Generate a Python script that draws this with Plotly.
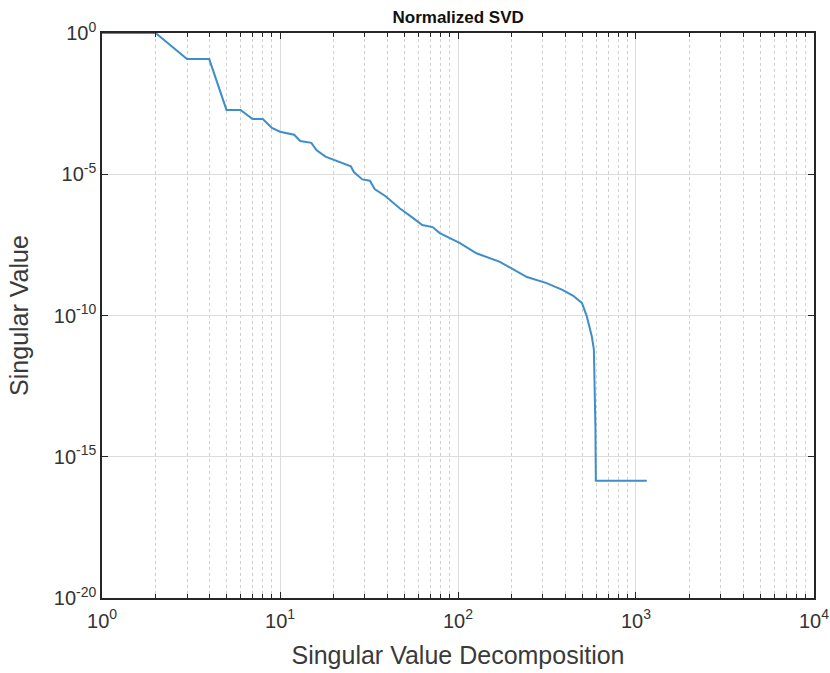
import plotly.graph_objects as go

# index of singular value
sv_index = [1, 2, 3, 4, 5, 6, 7, 8, 9, 10, 12, 13, 15, 16, 18, 20, 25, 26, 29, 32,
            34, 39, 47, 56, 63, 72, 79, 102, 127, 172, 195, 244, 315, 389, 444,
            497, 530, 565, 580, 588, 592, 595, 1150]
# normalized singular values
sv_value = [1.0, 1.0, 1.2e-1, 1.2e-1, 1.9e-3, 1.9e-3, 9.1e-4, 9.1e-4, 4.4e-4, 3.2e-4,
            2.5e-4, 1.5e-4, 1.3e-4, 7.2e-5, 4.2e-5, 3.2e-5, 1.9e-5, 1.2e-5, 6.6e-6,
            5.9e-6, 3.0e-6, 1.7e-6, 6.3e-7, 2.8e-7, 1.6e-7, 1.35e-7, 8.3e-8, 3.7e-8,
            1.6e-8, 7.9e-9, 5.2e-9, 2.3e-9, 1.4e-9, 7.9e-10, 5.0e-10, 2.8e-10,
            9.1e-11, 1.8e-11, 6.3e-12, 3.2e-13, 1.0e-14, 1.4e-16, 1.4e-16]

x_tick_vals = [1, 10, 100, 1000, 10000]
x_tick_text = ["10<sup>0</sup>", "10<sup>1</sup>", "10<sup>2</sup>", "10<sup>3</sup>", "10<sup>4</sup>"]
y_tick_vals = [1e0, 1e-5, 1e-10, 1e-15, 1e-20]
y_tick_text = ["10<sup>0</sup>", "10<sup>-5</sup>", "10<sup>-10</sup>", "10<sup>-15</sup>", "10<sup>-20</sup>"]

title_text = "Normalized SVD"
x_title = "Singular Value Decomposition"
y_title = "Singular Value"

FONT = "Liberation Sans, Arial, sans-serif"
AX = "#262626"

fig = go.Figure()
fig.add_trace(go.Scatter(x=sv_index, y=sv_value, mode="lines",
                         line=dict(color="#3d8ec9", width=2), showlegend=False))

common = dict(
    type="log", showline=True, linecolor=AX, linewidth=1.5, mirror="ticks",
    ticks="inside", ticklen=6, tickcolor=AX, tickwidth=1,
    showgrid=True, gridcolor="#dcdcdc", gridwidth=1,
    zeroline=False, tickmode="array", automargin=False,
    tickfont=dict(family=FONT, size=20, color="#333"),
)

fig.update_xaxes(
    **common, range=[-0.0005, 4.0005],
    tickvals=x_tick_vals, ticktext=x_tick_text, ticklabelstandoff=4,
    minor=dict(dtick="D1", ticks="inside", ticklen=4, tickcolor=AX,
               showgrid=True, gridcolor="#cfcfcf", griddash="dot", gridwidth=1),
    title=dict(text=x_title, font=dict(family=FONT, size=25, color="#3a3a3a"), standoff=16),
)
fig.update_yaxes(
    **common, range=[-20.002, 0.002],
    tickvals=y_tick_vals, ticktext=y_tick_text,
    title=dict(text=y_title, font=dict(family=FONT, size=25, color="#3a3a3a"), standoff=18),
)

fig.update_layout(
    width=830, height=673,
    margin=dict(l=102, r=16, t=33, b=75),
    plot_bgcolor="white", paper_bgcolor="white",
    title=dict(text="<b>" + title_text + "</b>", x=0.552, xanchor="center",
               y=0.974, yanchor="middle",
               font=dict(family=FONT, size=17, color="#111")),
)

fig.write_html("out.html")
